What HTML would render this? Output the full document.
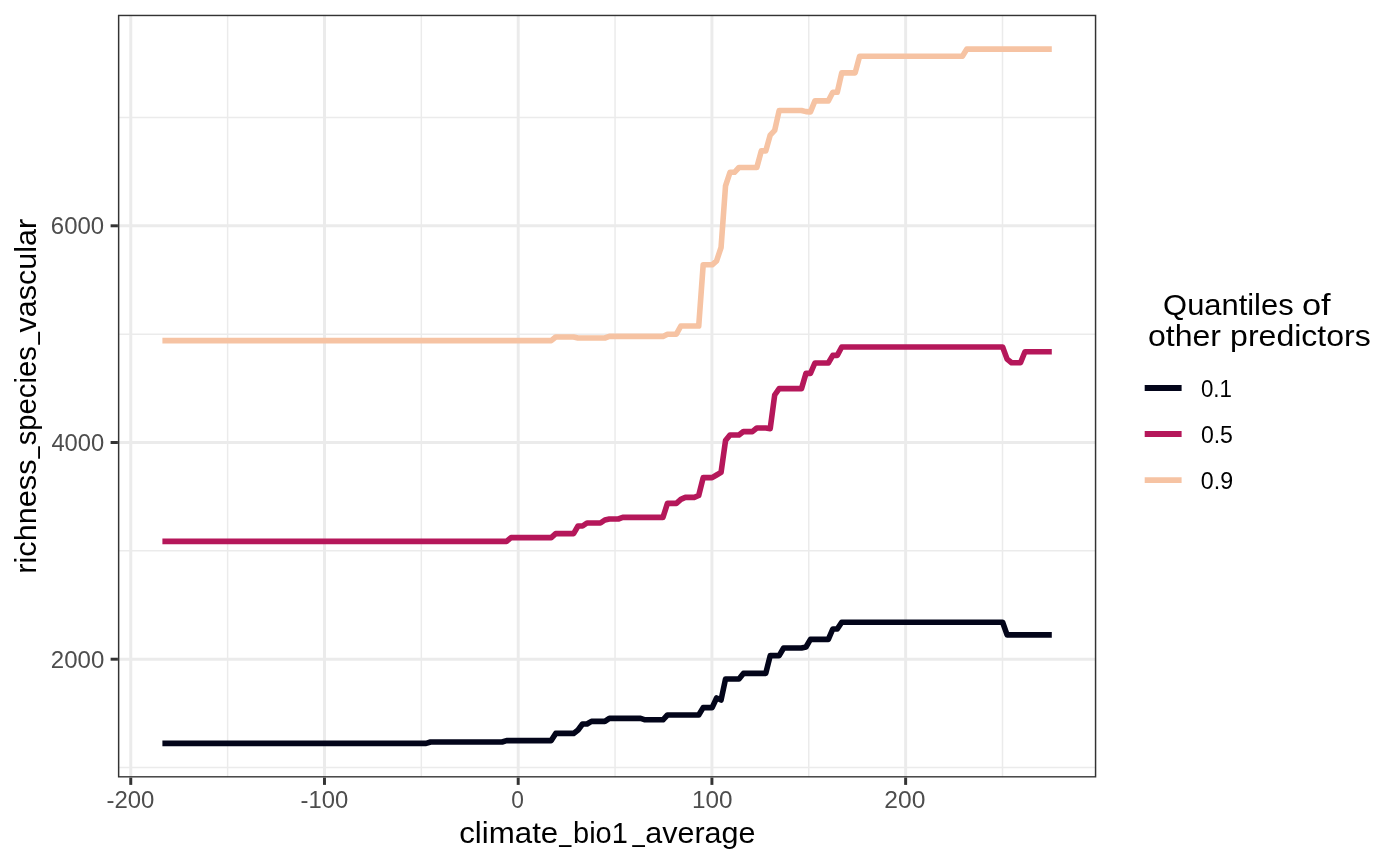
<!DOCTYPE html>
<html lang="en">
<head>
<meta charset="utf-8">
<title>Partial dependence: richness_species_vascular vs climate_bio1_average</title>
<style>
html,body{margin:0;padding:0;background:#fff;}
body{width:1400px;height:866px;overflow:hidden;}
svg{display:block;}
text{font-family:"Liberation Sans", "DejaVu Sans", sans-serif;}
.tick{font-size:23.3px;fill:#4d4d4d;}
.title{font-size:29.2px;fill:#000;}
.leg{font-size:23.3px;fill:#000;}
</style>
</head>
<body>
<svg width="1400" height="866" viewBox="0 0 1400 866">
<rect x="0" y="0" width="1400" height="866" fill="#ffffff"/>
<defs><clipPath id="panel"><rect x="117.9" y="14.7" width="978.40" height="762.90"/></clipPath></defs>
<g clip-path="url(#panel)">
<g stroke="#ebebeb" stroke-width="1.48" fill="none">
<line x1="117.9" x2="1096.3" y1="767.55" y2="767.55"/>
<line x1="117.9" x2="1096.3" y1="550.85" y2="550.85"/>
<line x1="117.9" x2="1096.3" y1="334.15" y2="334.15"/>
<line x1="117.9" x2="1096.3" y1="117.45" y2="117.45"/>
<line y1="14.7" y2="777.6" x1="227.62" x2="227.62"/>
<line y1="14.7" y2="777.6" x1="421.34" x2="421.34"/>
<line y1="14.7" y2="777.6" x1="615.06" x2="615.06"/>
<line y1="14.7" y2="777.6" x1="808.78" x2="808.78"/>
<line y1="14.7" y2="777.6" x1="1002.50" x2="1002.50"/>
</g>
<g stroke="#ebebeb" stroke-width="2.96" fill="none">
<line x1="117.9" x2="1096.3" y1="659.20" y2="659.20"/>
<line x1="117.9" x2="1096.3" y1="442.50" y2="442.50"/>
<line x1="117.9" x2="1096.3" y1="225.80" y2="225.80"/>
<line y1="14.7" y2="777.6" x1="130.76" x2="130.76"/>
<line y1="14.7" y2="777.6" x1="324.48" x2="324.48"/>
<line y1="14.7" y2="777.6" x1="518.20" x2="518.20"/>
<line y1="14.7" y2="777.6" x1="711.92" x2="711.92"/>
<line y1="14.7" y2="777.6" x1="905.64" x2="905.64"/>
</g>
<g fill="none" stroke-width="5.6" stroke-linejoin="round" stroke-linecap="butt">
<path stroke="#03051a" d="M162.40,743.40 L426.09,743.40 L430.56,742.00 L502.07,742.00 L506.54,740.60 L551.23,740.60 L555.70,733.40 L573.58,733.40 L578.04,730.00 L582.51,724.00 L586.98,724.00 L591.45,721.40 L604.86,721.40 L609.33,718.40 L640.62,718.40 L645.08,719.80 L662.96,719.80 L667.43,715.00 L698.72,715.00 L703.19,707.60 L712.12,707.60 L716.59,698.00 L721.06,700.00 L725.53,679.00 L738.94,679.00 L743.41,673.40 L765.76,673.40 L770.22,655.60 L779.16,655.60 L783.63,648.00 L801.51,648.00 L805.98,647.00 L810.45,639.40 L828.33,639.40 L832.79,629.00 L837.26,629.00 L841.73,622.20 L1002.63,622.20 L1007.10,634.90 L1051.79,634.90"/>
<path stroke="#b5175a" d="M162.40,541.40 L506.54,541.40 L511.01,537.60 L551.23,537.60 L555.70,533.60 L573.58,533.60 L578.04,526.00 L582.51,526.00 L586.98,523.00 L600.39,523.00 L604.86,520.00 L609.33,519.00 L618.27,519.00 L622.74,517.40 L662.96,517.40 L667.43,503.40 L676.37,503.40 L680.84,499.40 L685.31,497.40 L694.25,497.40 L698.72,495.50 L703.19,477.60 L712.12,477.60 L716.59,475.00 L721.06,472.40 L725.53,440.60 L730.00,435.00 L738.94,435.00 L743.41,431.60 L752.35,431.60 L756.82,428.00 L765.76,428.00 L770.22,428.60 L774.69,395.00 L779.16,388.60 L801.51,388.60 L805.98,373.40 L810.45,373.40 L814.92,363.00 L828.33,363.00 L832.79,355.40 L837.26,355.40 L841.73,347.00 L1002.63,347.00 L1007.10,359.10 L1011.57,362.70 L1020.51,362.70 L1024.97,351.80 L1051.79,351.80"/>
<path stroke="#f6c3a3" d="M162.40,340.60 L551.23,340.60 L555.70,337.00 L573.58,337.00 L578.04,338.00 L604.86,338.00 L609.33,336.40 L662.96,336.40 L667.43,334.20 L676.37,334.20 L680.84,326.00 L698.72,326.00 L703.19,264.80 L712.12,264.80 L716.59,260.80 L721.06,247.50 L725.53,185.90 L730.00,172.30 L734.47,172.30 L738.94,167.50 L756.82,167.50 L761.29,150.90 L765.76,150.90 L770.22,135.10 L774.69,130.40 L779.16,110.50 L801.51,110.50 L805.98,111.60 L810.45,111.90 L814.92,100.90 L828.33,100.90 L832.79,92.30 L837.26,92.30 L841.73,72.90 L855.14,72.90 L859.61,56.20 L962.40,56.20 L966.87,49.10 L1051.79,49.10"/>
</g>
<rect x="117.9" y="14.7" width="978.40" height="762.90" fill="none" stroke="#333333" stroke-width="2.96"/>
</g>
<g stroke="#333333" stroke-width="2.96" fill="none">
<line x1="130.76" x2="130.76" y1="777.6" y2="784.90"/>
<line x1="324.48" x2="324.48" y1="777.6" y2="784.90"/>
<line x1="518.20" x2="518.20" y1="777.6" y2="784.90"/>
<line x1="711.92" x2="711.92" y1="777.6" y2="784.90"/>
<line x1="905.64" x2="905.64" y1="777.6" y2="784.90"/>
<line y1="659.20" y2="659.20" x1="110.60" x2="117.9"/>
<line y1="442.50" y2="442.50" x1="110.60" x2="117.9"/>
<line y1="225.80" y2="225.80" x1="110.60" x2="117.9"/>
</g>
<g class="tick">
<text y="808"><tspan x="106.43" textLength="47.97" lengthAdjust="spacingAndGlyphs">-200</tspan></text>
<text y="808"><tspan x="300.49" textLength="47.68" lengthAdjust="spacingAndGlyphs">-100</tspan></text>
<text y="808"><tspan x="511.19" textLength="12.67" lengthAdjust="spacingAndGlyphs">0</tspan></text>
<text y="808"><tspan x="691.91" textLength="40.56" lengthAdjust="spacingAndGlyphs">100</tspan></text>
<text y="808"><tspan x="884.34" textLength="41.09" lengthAdjust="spacingAndGlyphs">200</tspan></text>
<text y="668"><tspan x="50.88" textLength="53.44" lengthAdjust="spacingAndGlyphs">2000</tspan></text>
<text y="451"><tspan x="51.42" textLength="52.86" lengthAdjust="spacingAndGlyphs">4000</tspan></text>
<text y="234"><tspan x="50.85" textLength="53.30" lengthAdjust="spacingAndGlyphs">6000</tspan></text>
</g>
<text class="title" y="843"><tspan x="459.21" textLength="99.06" lengthAdjust="spacingAndGlyphs">climate</tspan><tspan x="559.25" dy="-1.7" textLength="12.04" lengthAdjust="spacingAndGlyphs">_</tspan><tspan x="573.06" dy="1.7" textLength="54.82" lengthAdjust="spacingAndGlyphs">bio1</tspan><tspan x="632.39" dy="-1.7" textLength="12.29" lengthAdjust="spacingAndGlyphs">_</tspan><tspan x="645.22" dy="1.7" textLength="110.19" lengthAdjust="spacingAndGlyphs">average</tspan></text>
<text class="title" transform="translate(35.85,0) rotate(-90)" y="0"><tspan x="-573.73" textLength="114.21" lengthAdjust="spacingAndGlyphs">richness</tspan><tspan x="-458.39" dy="-1.7" textLength="12.08" lengthAdjust="spacingAndGlyphs">_</tspan><tspan x="-445.22" dy="1.7" textLength="98.95" lengthAdjust="spacingAndGlyphs">species</tspan><tspan x="-344.60" dy="-1.7" textLength="12.52" lengthAdjust="spacingAndGlyphs">_</tspan><tspan x="-332.42" dy="1.7" textLength="113.53" lengthAdjust="spacingAndGlyphs">vascular</tspan></text>
<text class="title" y="315"><tspan x="1163.11" textLength="130.48" lengthAdjust="spacingAndGlyphs">Quantiles</tspan><tspan> </tspan><tspan x="1301.97" textLength="28.72" lengthAdjust="spacingAndGlyphs">of</tspan></text>
<text class="title" y="346"><tspan x="1147.93" textLength="73.03" lengthAdjust="spacingAndGlyphs">other</tspan><tspan> </tspan><tspan x="1230.09" textLength="140.68" lengthAdjust="spacingAndGlyphs">predictors</tspan></text>
<g fill="none" stroke-width="5.9">
<line x1="1144.7" x2="1181.6" y1="388.0" y2="388.0" stroke="#03051a"/>
<line x1="1144.7" x2="1181.6" y1="434.05" y2="434.05" stroke="#b5175a"/>
<line x1="1144.7" x2="1181.6" y1="480.1" y2="480.1" stroke="#f6c3a3"/>
</g>
<g class="leg">
<text y="397"><tspan x="1200.89" textLength="31.00" lengthAdjust="spacingAndGlyphs">0.1</tspan></text>
<text y="443"><tspan x="1200.89" textLength="32.08" lengthAdjust="spacingAndGlyphs">0.5</tspan></text>
<text y="489"><tspan x="1200.87" textLength="32.25" lengthAdjust="spacingAndGlyphs">0.9</tspan></text>
</g>
</svg>
</body>
</html>
